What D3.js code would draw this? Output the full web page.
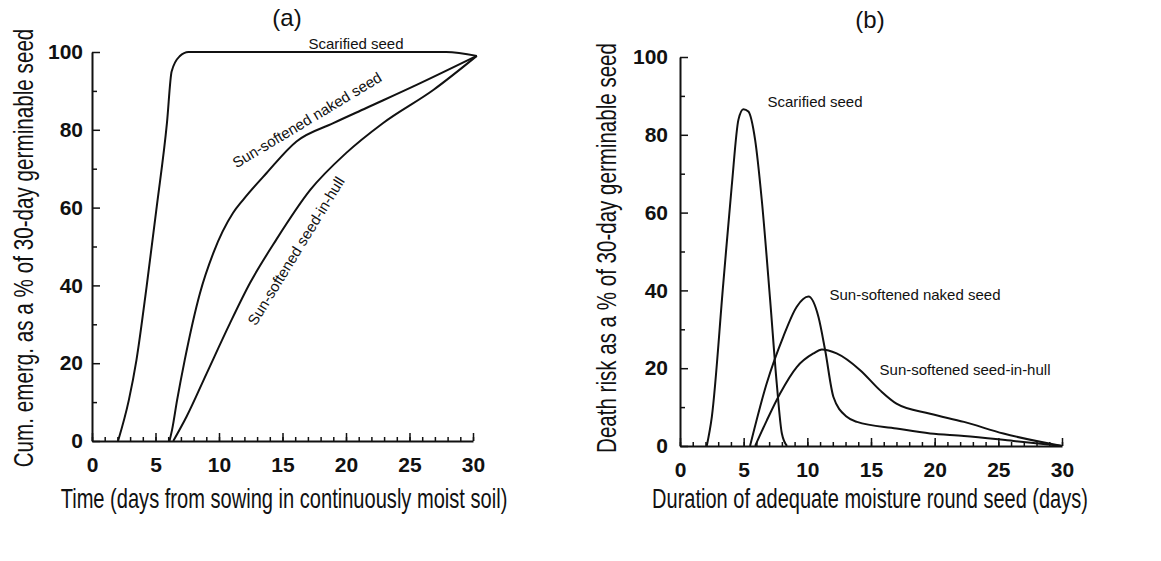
<!DOCTYPE html>
<html>
<head>
<meta charset="utf-8">
<script src="https://cdn.jsdelivr.net/npm/d3@7"></script>
<style>
  body { margin: 0; background: #fff; }
  text { font-family: "Liberation Sans", Arial, sans-serif; fill: #111; }
</style>
</head>
<body>
<div id="chart"></div>
<script>
// ---- data ----
// panel (a): cumulative emergence (% of 30-day germinable seed)
var scarifiedEmergX = [2.05, 2.9, 3.5, 4.3, 5.1, 5.9, 6.27, 6.9, 7.6, 15, 22, 27.9, 30.3];
var scarifiedEmergY = [0, 10.5, 20.8, 39.7, 60.3, 81.7, 95, 98.9, 100, 100, 100, 100, 99];
var nakedEmergX = [6.1, 6.3, 6.7, 7.3, 8.5, 9.55, 11.1, 11.9, 13.75, 16.1, 19, 21.6, 25.6, 30.3];
var nakedEmergY = [0, 2.8, 10.5, 20.8, 38, 48.3, 58.6, 62, 68.9, 77, 81.7, 85.6, 91.6, 99];
var hullEmergX = [6.4, 7.45, 9.03, 10.87, 12.44, 14.5, 17.2, 20, 22.9, 26.9, 30.3];
var hullEmergY = [0, 6.3, 17.4, 30.3, 40.6, 51.7, 64.6, 74, 81.7, 90.3, 99];

// panel (b): death risk (% of 30-day germinable seed)
var scarifiedRiskX = [2.1, 2.5, 3.4, 4.06, 4.59, 4.98, 5.37, 5.9, 6.42, 7.08, 7.6, 8.0, 8.4];
var scarifiedRiskY = [0, 7.5, 41.8, 66.7, 83.9, 86.6, 86, 78.7, 63.3, 37.5, 16, 3.2, 0];
var nakedRiskX = [5.5, 6.8, 8.1, 9.17, 10.09, 10.87, 11.4, 12.05, 13.1, 13.9, 17, 19.65, 22.3, 26.2, 30];
var nakedRiskY = [0, 16, 28, 35.8, 38.4, 33.2, 24.6, 12.6, 7.5, 6.2, 4.5, 3.2, 2.6, 1.3, 0];
var hullRiskX = [5.9, 6.82, 7.86, 9.17, 10.48, 11.14, 12.3, 14.15, 15.72, 17, 19.65, 22.3, 25.4, 30];
var hullRiskY = [0, 6.6, 13.5, 20.3, 23.8, 24.8, 23.8, 19.5, 14.3, 10.9, 8.3, 6.2, 3.2, 0];

var xTicks = [0, 5, 10, 15, 20, 25, 30];
var yTicks = [0, 20, 40, 60, 80, 100];

var W = 1161, H = 561;

var svg = d3.select("#chart")
  .append("svg")
  .attr("width", W)
  .attr("height", H);

function zip(xs, ys) {
  return xs.map(function (x, i) { return [x, ys[i]]; });
}

// narrow a text horizontally so it spans len pixels (the original uses a condensed face)
function condensed(g, tx, ty, rot, len, str) {
  var t = g.append("text")
    .attr("text-anchor", "middle")
    .style("font-size", "27px")
    .text(str);
  var natural = t.node().getComputedTextLength();
  var k = len / natural;
  t.attr("transform", "translate(" + tx + "," + ty + ") rotate(" + rot + ") scale(" + k + ",1)");
  return t;
}

// draws one panel with its axes, curves and labels
function drawPanel(p) {
  var x = d3.scaleLinear().domain([0, 30]).range([p.left, p.right]);
  var y = d3.scaleLinear().domain([0, 100]).range([p.bottom, p.top]);
  var g = svg.append("g");

  // minor ticks
  g.append("g")
    .attr("transform", "translate(0," + p.bottom + ")")
    .call(d3.axisBottom(x).tickValues(d3.range(0, 31, 1)).tickSize(-4).tickSizeOuter(0).tickFormat(""))
    .call(function (a) { a.select(".domain").remove(); });
  g.append("g")
    .attr("transform", "translate(" + p.left + ",0)")
    .call(d3.axisLeft(y).tickValues(d3.range(10, 100, 20)).tickSize(-5).tickSizeOuter(0).tickFormat(""))
    .call(function (a) { a.select(".domain").remove(); });

  // major axes
  g.append("g")
    .attr("transform", "translate(0," + p.bottom + ")")
    .call(d3.axisBottom(x).tickValues(xTicks).tickSize(-8).tickSizeOuter(0).tickPadding(16));
  g.append("g")
    .attr("transform", "translate(" + p.left + ",0)")
    .call(d3.axisLeft(y).tickValues(yTicks).tickSize(-8).tickSizeOuter(0).tickPadding(p.ypad));

  g.selectAll(".domain").attr("stroke", "#111").attr("stroke-width", 2);
  g.selectAll(".tick line").attr("stroke", "#111").attr("stroke-width", 1.5);
  g.selectAll(".tick text")
    .style("font-family", "'Liberation Sans', Arial, sans-serif")
    .style("font-weight", "bold")
    .style("font-size", "21px")
    .attr("fill", "#111");

  var line = d3.line()
    .x(function (d) { return x(d[0]); })
    .y(function (d) { return y(d[1]); })
    .curve(d3.curveMonotoneX);

  p.series.forEach(function (s) {
    g.append("path")
      .datum(s)
      .attr("d", line)
      .attr("fill", "none")
      .attr("stroke", "#111")
      .attr("stroke-width", 2);
  });

  // panel title
  g.append("text")
    .attr("x", p.titleX).attr("y", p.titleY)
    .attr("text-anchor", "middle")
    .style("font-size", "24px")
    .text(p.title);

  // axis titles
  condensed(g, p.xTitleX, 508, 0, p.xTitleLen, p.xTitle);
  condensed(g, p.yTitleX, p.yTitleY, -90, p.yTitleLen, p.yTitle);

  // curve labels
  p.labels.forEach(function (l) {
    g.append("text")
      .attr("transform", "translate(" + l[0] + "," + l[1] + ") rotate(" + l[2] + ")")
      .attr("text-anchor", "middle")
      .attr("dy", "0.35em")
      .style("font-size", "15px")
      .text(l[3]);
  });
}

drawPanel({
  left: 92, right: 473, top: 52, bottom: 441, ypad: 9,
  series: [zip(scarifiedEmergX, scarifiedEmergY), zip(nakedEmergX, nakedEmergY), zip(hullEmergX, hullEmergY)],
  title: "(a)", titleX: 287, titleY: 26,
  xTitle: "Time (days from sowing in continuously moist soil)", xTitleX: 284, xTitleLen: 447,
  yTitle: "Cum. emerg. as a % of 30-day germinable seed", yTitleX: 33, yTitleY: 248, yTitleLen: 439,
  labels: [
    [356, 44, 0, "Scarified seed"],
    [307, 120, -31, "Sun-softened naked seed"],
    [296, 251, -58.5, "Sun-softened seed-in-hull"]
  ]
});

drawPanel({
  left: 680, right: 1062, top: 57, bottom: 446, ypad: 12,
  series: [zip(scarifiedRiskX, scarifiedRiskY), zip(nakedRiskX, nakedRiskY), zip(hullRiskX, hullRiskY)],
  title: "(b)", titleX: 870, titleY: 28,
  xTitle: "Duration of adequate moisture round seed (days)", xTitleX: 870, xTitleLen: 436,
  yTitle: "Death risk as a % of 30-day germinable seed", yTitleX: 616, yTitleY: 248, yTitleLen: 410,
  labels: [
    [815, 102, 0, "Scarified seed"],
    [915, 295, 0, "Sun-softened naked seed"],
    [965, 370, 0, "Sun-softened seed-in-hull"]
  ]
});
</script>
</body>
</html>
